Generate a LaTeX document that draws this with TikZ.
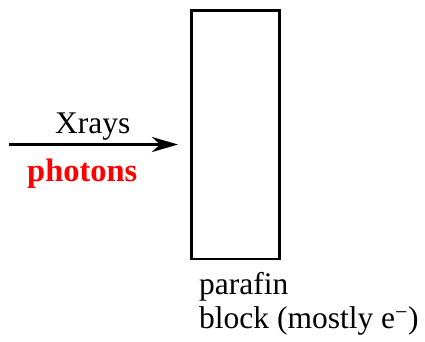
\documentclass[tikz,border=0pt]{standalone}
\usepackage{fontspec}
\newfontfamily\tms{Liberation Serif}
\usetikzlibrary{arrows.meta}
\begin{document}
\begin{tikzpicture}[x=1pt,y=-1pt,
  lbl/.style={inner sep=0pt,font=\tms\fontsize{31.5}{36}\selectfont},
  blockbox/.style={draw=black,line width=2.5pt},
  ray/.style={line width=3pt,-{Stealth[length=26pt,width=15pt,inset=8pt]}}]
\useasboundingbox (0,0) rectangle (425,342);
\node[blockbox,minimum width=88pt,minimum height=248pt,anchor=north west,inner sep=0pt] (blk) at (190,9.5) {};
\coordinate (src) at (9,144.5);
\coordinate (tip) at (178,144.5);
\draw[ray] (src) -- (tip);
\node[lbl,anchor=base west] (xr) at (55,133) {Xrays};
\node[lbl,anchor=base west,text=red,font=\tms\fontsize{32.5}{36}\selectfont\bfseries] (ph) at (27,181.5) {photons};
\node[lbl,anchor=base west] (pa) at (199,294) {parafin};
\node[lbl,anchor=base west] (bl) at (199,328.5) {block (mostly e\textsuperscript{\textminus})};
\end{tikzpicture}
\end{document}
